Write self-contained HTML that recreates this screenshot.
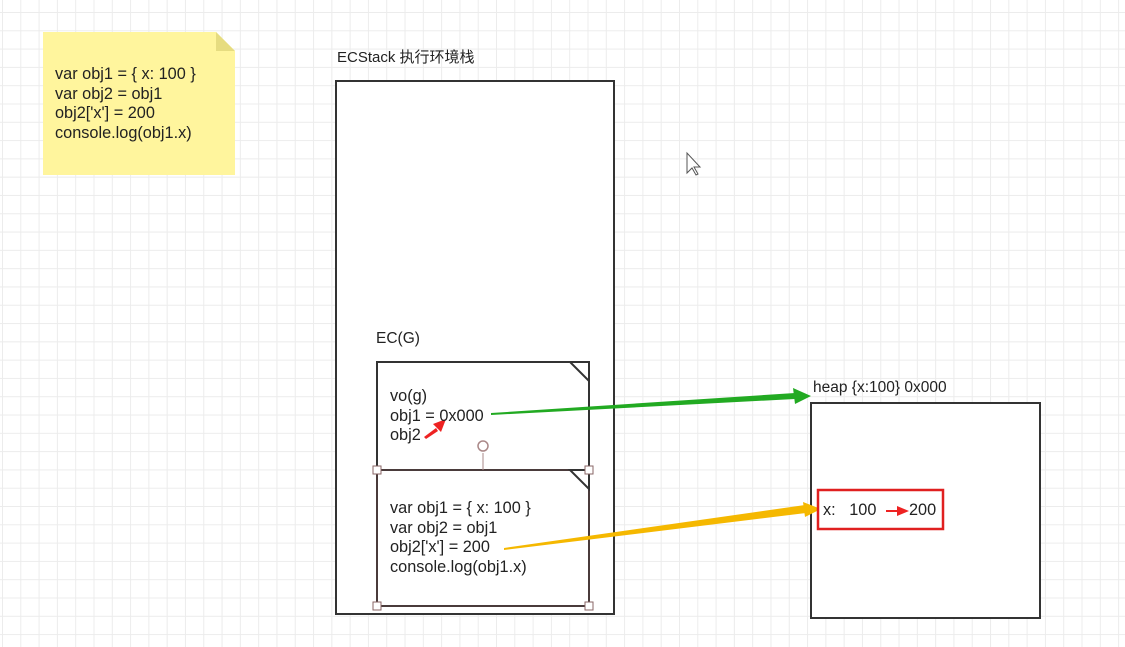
<!DOCTYPE html>
<html><head><meta charset="utf-8"><style>
body{margin:0;width:1125px;height:647px;overflow:hidden;background:#fff;
background-image:linear-gradient(#ececec 1px,transparent 1px),linear-gradient(90deg,#ececec 1px,transparent 1px);
background-size:18.3px 18.3px;background-position:2px 12px;
font-family:"Liberation Sans","Noto Sans CJK SC",sans-serif;color:#222;position:relative}
.a{position:absolute}
.t{font-size:16.3px;line-height:19.5px;white-space:nowrap}
</style></head><body>
<div class="a" style="left:43px;top:32px;width:192px;height:143px;background:#fff59d;clip-path:polygon(0 0,173px 0,192px 19px,192px 143px,0 143px)"></div>
<div class="a" style="left:216px;top:32px;width:19px;height:19px;background:#e6dc80;clip-path:polygon(0 0,0 100%,100% 100%)"></div>
<div class="a t" style="left:55px;top:65px">var obj1 = { x: 100 }<br>var obj2 = obj1<br>obj2['x'] = 200<br>console.log(obj1.x)</div>

<div class="a t" style="left:337px;top:48px;font-size:15px">ECStack 执行环境栈</div>
<div class="a" style="left:335px;top:80px;width:276px;height:531px;border:2px solid #333;background:#fff"></div>
<div class="a t" style="left:376px;top:329px;font-size:15.5px">EC(G)</div>
<div class="a t" style="left:813px;top:378px;font-size:15.5px">heap {x:100} 0x000</div>
<div class="a" style="left:810px;top:402px;width:227px;height:213px;border:2px solid #333;background:#fff"></div>

<svg class="a" style="left:0;top:0" width="1125" height="647">
<rect x="377" y="362" width="212" height="108" fill="#fff" stroke="#333" stroke-width="2"/>
<rect x="377" y="470" width="212" height="136" fill="#fff" stroke="#4a3b3b" stroke-width="2"/>
<path d="M570 362h19v19zM570 470h19v19z" fill="#fff" stroke="#333" stroke-width="2"/>
<line x1="483" y1="453" x2="483" y2="470" stroke="#a88" />
<circle cx="483" cy="446" r="5" fill="#fff" stroke="#a88" stroke-width="1.5"/>
<g fill="#fff" stroke="#866" stroke-width="1">
<rect x="373" y="466" width="8" height="8"/><rect x="585" y="466" width="8" height="8"/>
<rect x="373" y="602" width="8" height="8"/><rect x="585" y="602" width="8" height="8"/></g>
<polygon points="491,413 795,393 795,399 491,415" fill="#22aa22"/>
<polygon points="793,388 811,396 795,404" fill="#22aa22"/>
<polygon points="504,548 805,505 806,513 504,550" fill="#f5b800"/>
<polygon points="803,502 821,509 805,517" fill="#f5b800"/>
<rect x="818" y="490" width="125" height="39" fill="#fff" stroke="#e02020" stroke-width="2.5"/>
<polygon points="424,437 436,428 438,431 426,439" fill="#ee2222"/>
<polygon points="433,424 446,419 441,432" fill="#ee2222"/>
<polygon points="886,510 900,510 900,512 886,512" fill="#ee2222"/>
<polygon points="897,506 909,511 897,516" fill="#ee2222"/>
<path d="M687 153v20l5-5 4 7 2-1-4-7h6z" fill="#fff" stroke="#555" stroke-width="1"/>
</svg>
<div class="a t" style="left:390px;top:387px">vo(g)<br>obj1 = 0x000<br>obj2</div>
<div class="a t" style="left:390px;top:499px">var obj1 = { x: 100 }<br>var obj2 = obj1<br>obj2['x'] = 200<br>console.log(obj1.x)</div>
<div class="a t" style="left:823px;top:501px">x:&nbsp;&nbsp; 100</div>
<div class="a t" style="left:909px;top:501px">200</div>
</body></html>
